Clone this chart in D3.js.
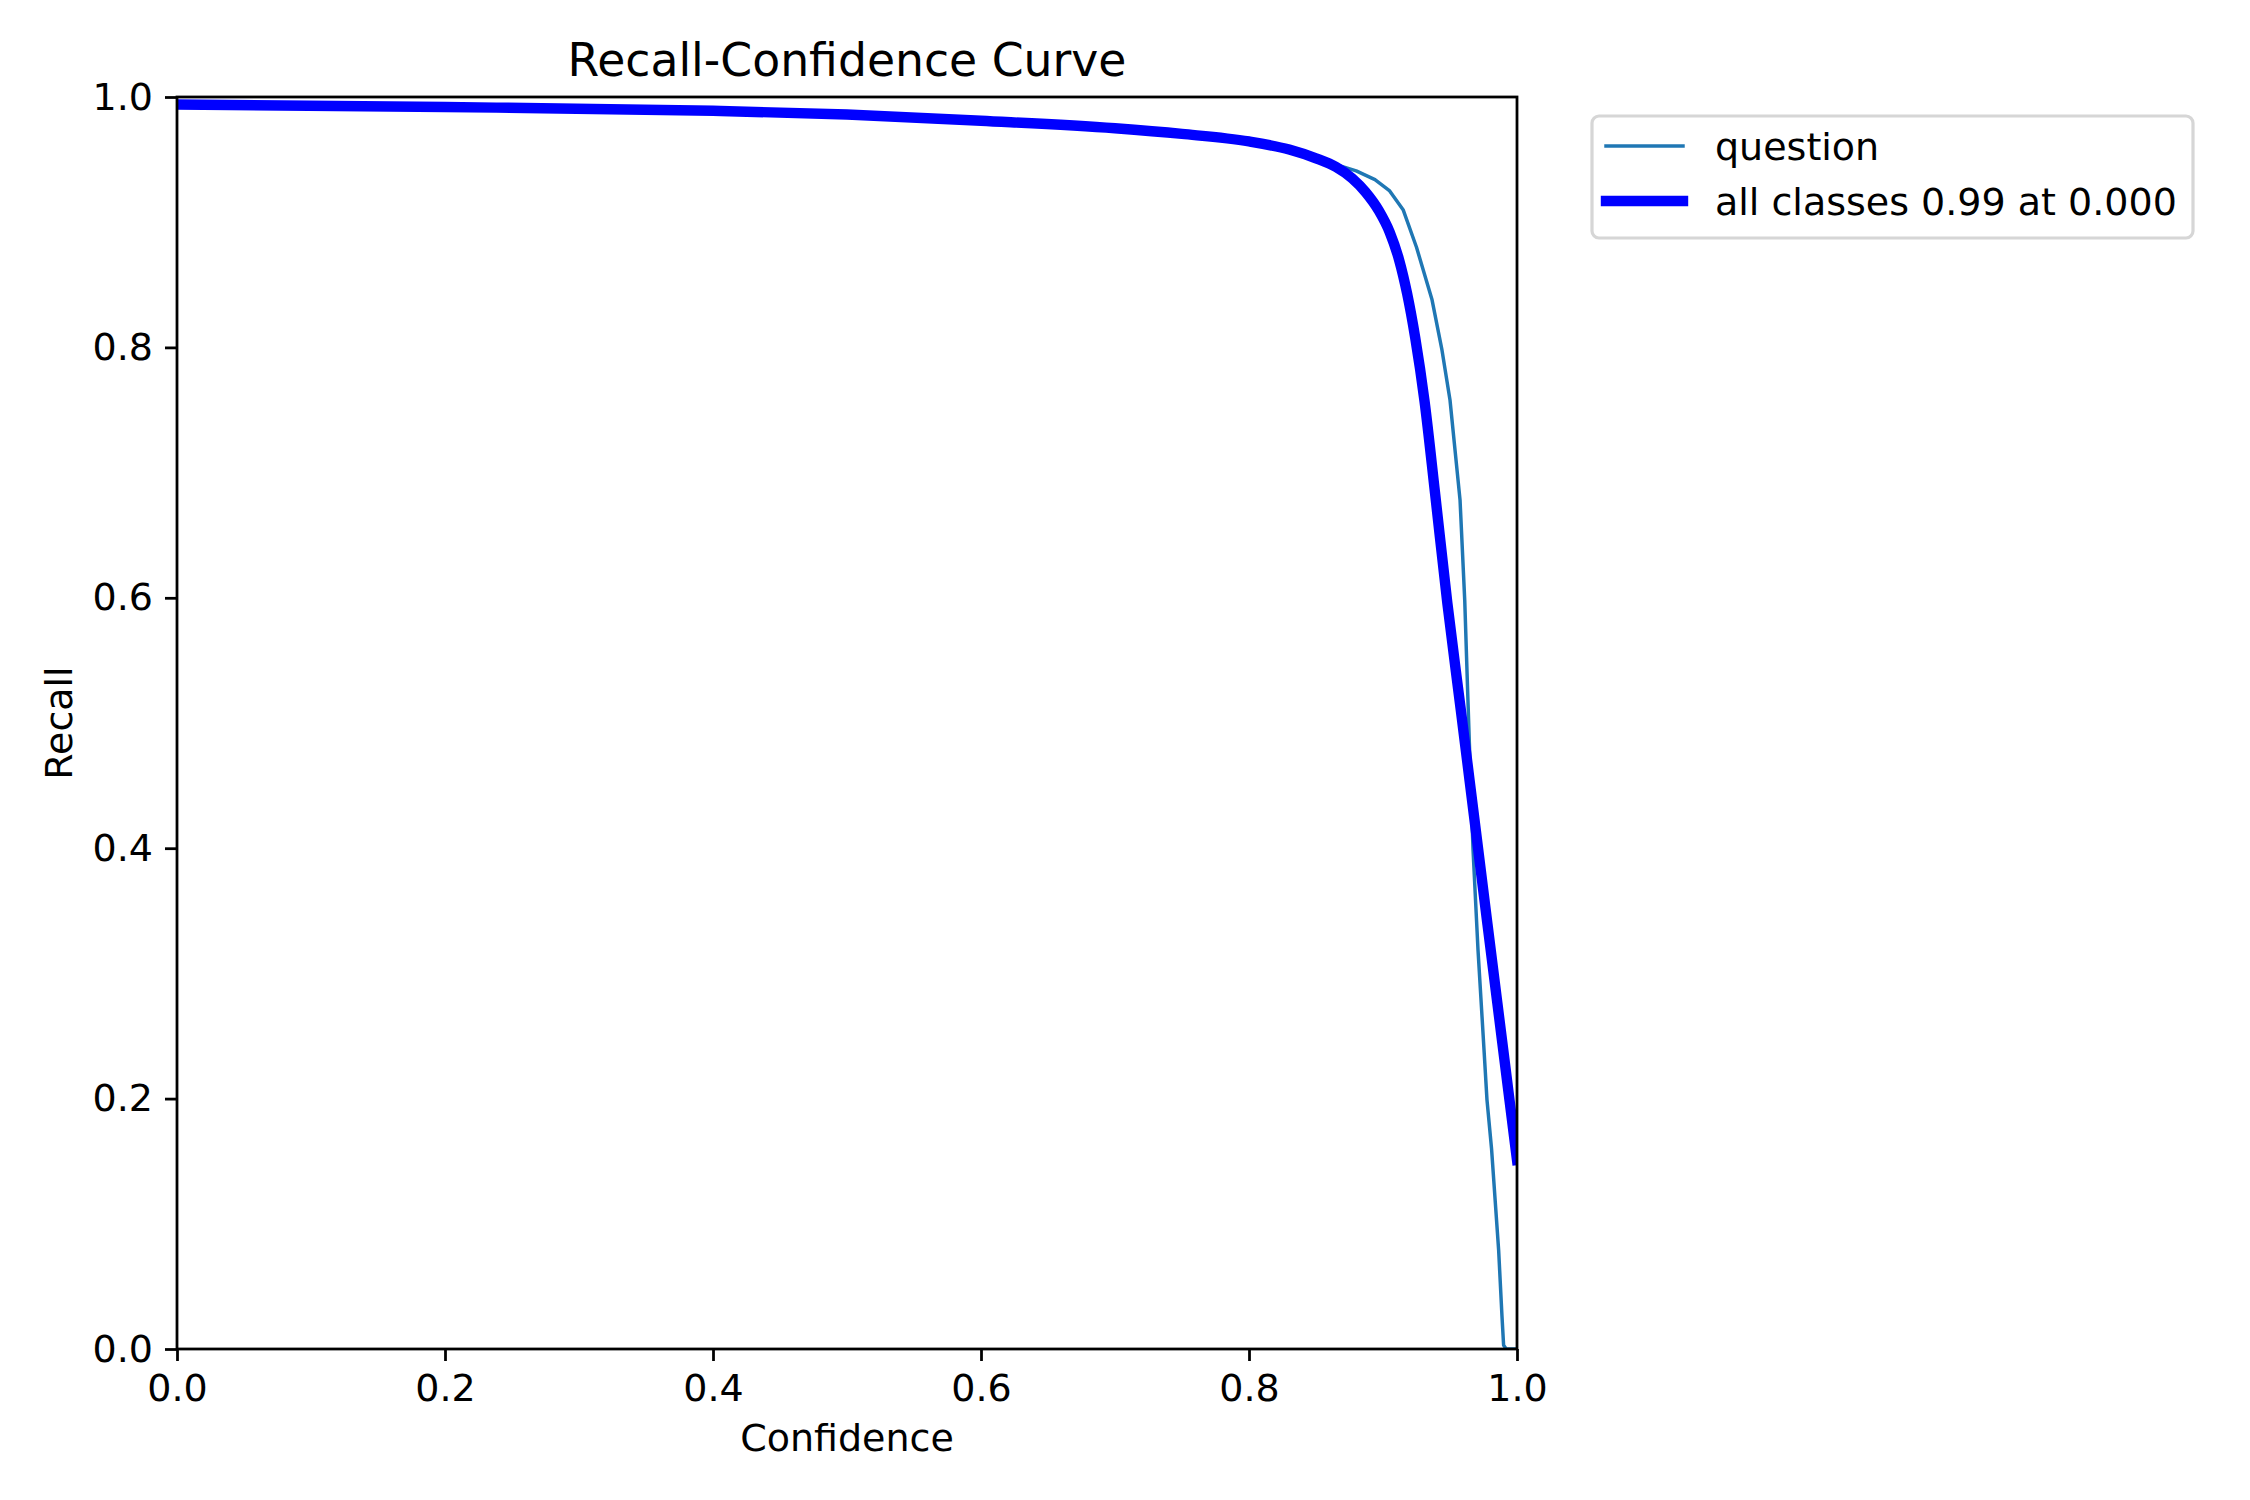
<!DOCTYPE html>
<html>
<head>
<meta charset="utf-8">
<script src="https://cdn.jsdelivr.net/npm/d3@7"></script>
<style>
  body { margin: 0; background: #fff; }
  text { font-family: "DejaVu Sans", sans-serif; fill: #000; }
</style>
</head>
<body>
<svg id="chart" width="2250" height="1500"></svg>
<script>
// ---- data ----
const seriesNames = ["question", "all classes 0.99 at 0.000"];
const questionConf = [0.0, 0.2, 0.4, 0.5, 0.6, 0.7, 0.75, 0.8, 0.83, 0.85, 0.865, 0.88, 0.894, 0.905, 0.915, 0.925, 0.9366, 0.944, 0.95, 0.9575, 0.961, 0.9634, 0.9655, 0.9672, 0.9709, 0.9754, 0.9776, 0.981, 0.9863, 0.9888, 0.990, 0.992, 1.0];
const questionRecall = [0.994, 0.992, 0.989, 0.986, 0.981, 0.975, 0.9705, 0.9645, 0.958, 0.951, 0.946, 0.941, 0.934, 0.925, 0.910, 0.880, 0.838, 0.798, 0.758, 0.678, 0.598, 0.518, 0.45, 0.3986, 0.3187, 0.2388, 0.199, 0.16, 0.079, 0.026, 0.003, 0.0, 0.0];
const allConf = [0.0, 0.2, 0.4, 0.5, 0.6, 0.7, 0.75, 0.8, 0.83, 0.85, 0.865, 0.877, 0.887, 0.897, 0.905, 0.912, 0.918, 0.924, 0.931, 0.9388, 0.948, 0.958, 0.968, 0.978, 0.989, 1.0];
const allRecall = [0.994, 0.992, 0.989, 0.986, 0.981, 0.975, 0.9705, 0.9645, 0.958, 0.951, 0.944, 0.935, 0.924, 0.909, 0.892, 0.870, 0.843, 0.808, 0.757, 0.684, 0.596, 0.511, 0.425, 0.339, 0.245, 0.151];
const xTicks = [0.0, 0.2, 0.4, 0.6, 0.8, 1.0];
const yTicks = [0.0, 0.2, 0.4, 0.6, 0.8, 1.0];
const titleText = "Recall-Confidence Curve";
const xLabel = "Confidence";
const yLabel = "Recall";

// ---- layout ----
const L = 177, R = 1517, T = 97, B = 1349;
const FS = 38;
const svg = d3.select("#chart");
svg.append("rect").attr("width", 2250).attr("height", 1500).attr("fill", "#fff");

const x = d3.scaleLinear().domain([0, 1]).range([L, R]);
const y = d3.scaleLinear().domain([0, 1]).range([B, T]);

svg.append("clipPath").attr("id", "clip")
  .append("rect").attr("x", L).attr("y", T).attr("width", R - L).attr("height", B - T);

const qData = questionConf.map((c, i) => [c, questionRecall[i]]);
const aData = allConf.map((c, i) => [c, allRecall[i]]);

const lineLin = d3.line().x(d => x(d[0])).y(d => y(d[1]));
const lineSmooth = d3.line().x(d => x(d[0])).y(d => y(d[1])).curve(d3.curveMonotoneX);

const plot = svg.append("g").attr("clip-path", "url(#clip)");
plot.append("path").datum(qData).attr("d", lineLin)
  .attr("fill", "none").attr("stroke", "#1f77b4").attr("stroke-width", 3.47)
  .attr("stroke-linejoin", "round").attr("stroke-linecap", "square");
plot.append("path").datum(aData).attr("d", lineSmooth)
  .attr("fill", "none").attr("stroke", "#0000ff").attr("stroke-width", 10.4)
  .attr("stroke-linejoin", "round").attr("stroke-linecap", "square");

// axes
const fmt = d3.format(".1f");
const gx = svg.append("g").attr("transform", `translate(0,${B})`)
  .call(d3.axisBottom(x).tickValues(xTicks).tickFormat(fmt).tickSize(12).tickSizeOuter(0).tickPadding(13));
const gy = svg.append("g").attr("transform", `translate(${L},0)`)
  .call(d3.axisLeft(y).tickValues(yTicks).tickFormat(fmt).tickSize(12).tickSizeOuter(0).tickPadding(12));
[gx, gy].forEach(g => {
  g.select(".domain").remove();
  g.selectAll(".tick line").attr("stroke", "#000").attr("stroke-width", 2.78);
  g.selectAll(".tick text").attr("font-size", FS).attr("font-family", "DejaVu Sans").attr("fill", "#000");
});

// spines
svg.append("rect").attr("x", L).attr("y", T).attr("width", R - L).attr("height", B - T)
  .attr("fill", "none").attr("stroke", "#000").attr("stroke-width", 2.78);

// title and labels
svg.append("text").attr("x", (L + R) / 2).attr("y", 76).attr("text-anchor", "middle")
  .attr("font-size", 45.7).text(titleText);
svg.append("text").attr("x", (L + R) / 2).attr("y", 1451).attr("text-anchor", "middle")
  .attr("font-size", FS).text(xLabel);
svg.append("text").attr("transform", `translate(72,${(T + B) / 2}) rotate(-90)`)
  .attr("text-anchor", "middle").attr("font-size", FS).text(yLabel);

// legend
const lg = svg.append("g");
lg.append("rect").attr("x", 1592).attr("y", 116).attr("width", 601).attr("height", 122)
  .attr("rx", 7).attr("ry", 7).attr("fill", "#fff").attr("fill-opacity", 0.8)
  .attr("stroke", "#d6d6d6").attr("stroke-width", 3.2);
const legendItems = [
  { name: seriesNames[0], color: "#1f77b4", w: 3.47, cy: 146 },
  { name: seriesNames[1], color: "#0000ff", w: 10.4, cy: 201 }
];
legendItems.forEach(it => {
  lg.append("line").attr("x1", 1606).attr("x2", 1683).attr("y1", it.cy).attr("y2", it.cy)
    .attr("stroke", it.color).attr("stroke-width", it.w).attr("stroke-linecap", "square");
  lg.append("text").attr("x", 1715).attr("y", it.cy + 13.5).attr("font-size", FS).text(it.name);
});
</script>
</body>
</html>
